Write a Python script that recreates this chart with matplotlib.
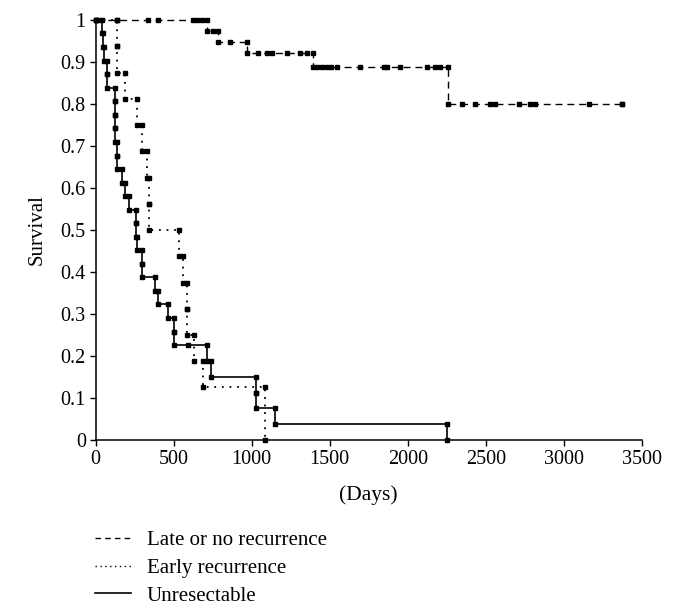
import numpy as np
import matplotlib.pyplot as plt
from matplotlib.lines import Line2D

plt.rcParams['font.family'] = ['Liberation Serif', 'DejaVu Serif']

# Late or no recurrence: event times (days) and survival after each event
late_t = [713, 787, 969, 1396, 2261]
late_s = [0.975, 0.947, 0.921, 0.889, 0.800]
late_end = 3373
late_cens = [15, 136, 339, 403, 627, 649, 681, 755, 862, 1044, 1097, 1129,
             1226, 1311, 1354, 1420, 1450, 1480, 1510, 1546, 1696, 1845,
             1867, 1952, 2123, 2176, 2208, 2347, 2433, 2529, 2561, 2710,
             2781, 2817, 3159, 3373]

# Early recurrence
early_t = [136, 140, 189, 264, 300, 328, 341, 341, 537, 560, 585, 585,
           633, 691, 1087]
early_s = [0.9375, 0.875, 0.8125, 0.75, 0.6875, 0.625, 0.5625, 0.5,
           0.4375, 0.375, 0.3125, 0.25, 0.1875, 0.125, 0.0]
early_cens = []

# Unresectable
unres_t = [42, 50, 54, 72, 75, 125, 125, 125, 125, 136, 136, 172, 189, 214,
           260, 262, 264, 296, 296, 381, 403, 465, 500, 505, 713, 738,
           1029, 1029, 1151, 2249]
unres_s = [0.968, 0.935, 0.903, 0.871, 0.839, 0.806, 0.774, 0.742, 0.710,
           0.677, 0.645, 0.613, 0.581, 0.548, 0.516, 0.484, 0.452, 0.419,
           0.387, 0.355, 0.323, 0.290, 0.258, 0.226, 0.188, 0.151, 0.113,
           0.075, 0.038, 0.0]
unres_cens = [595]

x_ticks = [0, 500, 1000, 1500, 2000, 2500, 3000, 3500]
y_ticks = [0, 0.1, 0.2, 0.3, 0.4, 0.5, 0.6, 0.7, 0.8, 0.9, 1]


def km_path(times, surv, end=None):
    xs, ys = [0], [1.0]
    prev = 1.0
    for t, s in zip(times, surv):
        xs += [t, t]
        ys += [prev, s]
        prev = s
    if end is not None:
        xs.append(end)
        ys.append(prev)
    return np.array(xs), np.array(ys)


def level_at(times, surv, t):
    lev = 1.0
    for ti, si in zip(times, surv):
        if ti <= t:
            lev = si
    return lev


fig = plt.figure(figsize=(6.75, 6.14), dpi=100)
ax = fig.add_axes([0.1415, 0.2834, 0.8095, 0.684])

DASH = (0, (5, 3.5))
DOT = (0, (1, 3.2))
ms = 2.8

curves = [
    (late_t, late_s, late_end, late_cens, DASH, 1.0),
    (early_t, early_s, None, early_cens, DOT, 1.3),
    (unres_t, unres_s, None, unres_cens, '-', 1.2),
]
for t, s, end, cens, ls, lw in curves:
    xs, ys = km_path(t, s, end)
    ax.plot(xs, ys, color='black', ls=ls, lw=lw, marker='s', ms=ms,
            clip_on=False)
    if cens:
        cl = [level_at(t, s, c) for c in cens]
        ax.plot(cens, cl, 's', color='black', ms=ms, clip_on=False)

ax.set_xlim(0, 3500)
ax.set_ylim(0, 1)
ax.set_xticks(x_ticks)
ax.set_yticks(y_ticks)
ax.set_yticklabels(['%g' % v for v in y_ticks])
for sp in ['top', 'right']:
    ax.spines[sp].set_visible(False)
for sp in ['left', 'bottom']:
    ax.spines[sp].set_linewidth(1.1)
ax.tick_params(direction='out', length=4, width=1, labelsize=14.5, pad=3)
ax.set_xlabel('(Days)', fontsize=15.5, labelpad=12)
ax.set_ylabel('Survival', fontsize=15, labelpad=10)

handles = [
    Line2D([], [], color='black', ls=(0, (4, 3)), lw=1.0),
    Line2D([], [], color='black', ls=(0, (1, 2.5)), lw=1.0),
    Line2D([], [], color='black', ls='-', lw=1.2),
]
labels = ['Late or no recurrence', 'Early recurrence', 'Unresectable']
fig.legend(handles, labels, loc='upper left',
           bbox_to_anchor=(0.128, 1 - 522 / 614), frameon=False,
           fontsize=15, handlelength=1.75, handletextpad=0.75,
           labelspacing=0.4, borderaxespad=0)

fig.savefig('out.png', dpi=100)
